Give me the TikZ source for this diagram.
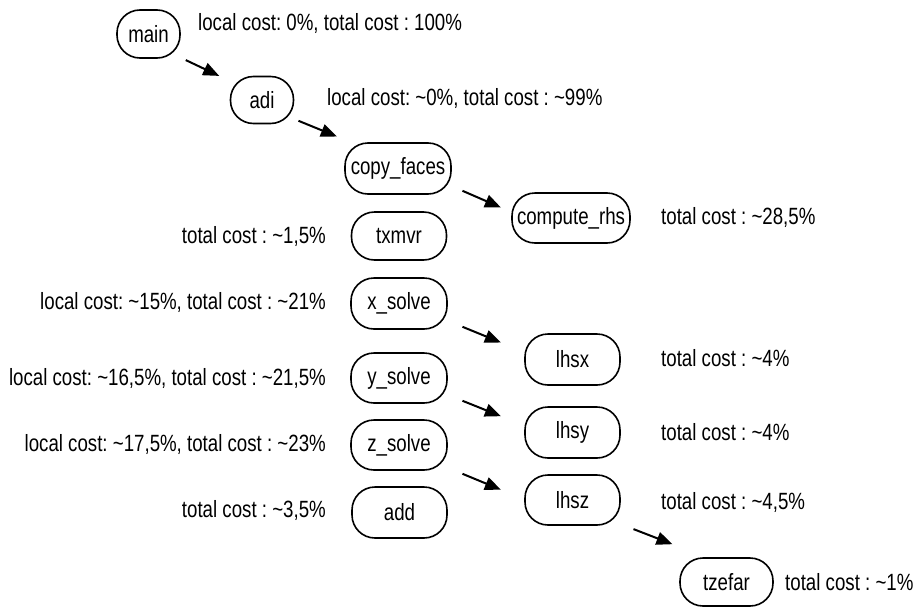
\documentclass[tikz,border=0pt]{standalone}
\usepackage{fontspec}
\setmainfont{Liberation Sans}[FakeStretch=0.795]
\usetikzlibrary{arrows.meta}
\newcommand{\tl}{\textasciitilde}
\frenchspacing
\begin{document}
\begin{tikzpicture}[x=1pt,y=-1pt,
  fn/.style={draw,line width=1.6pt,rounded corners=23pt,inner sep=0pt,
    font=\fontsize{23.5}{25}\selectfont},
  lbl/.style={inner sep=0pt,font=\fontsize{23.5}{25}\selectfont},
  arr/.style={line width=2pt,-{Triangle[length=16pt,width=13pt]}}]
\useasboundingbox (0,0) rectangle (915,608);
% nodes
\node[fn,minimum width=63pt,minimum height=48pt] (main) at (148.5,34) {main};
\node[fn,minimum width=63pt,minimum height=47pt] (adi) at (262,100) {adi};
\node[fn,minimum width=106pt,minimum height=51pt] (copy) at (398,168.5) {copy\_faces};
\node[fn,minimum width=95pt,minimum height=48pt] (txmvr) at (399,236) {txmvr};
\node[fn,minimum width=118pt,minimum height=50pt] (crhs) at (571,218) {compute\_rhs};
\node[fn,minimum width=96pt,minimum height=51pt] (xs) at (399,303.5) {x\_solve};
\node[fn,minimum width=95pt,minimum height=51pt] (lhsx) at (572.5,359.5) {lhsx};
\node[fn,minimum width=96pt,minimum height=50pt] (ys) at (399,378) {y\_solve};
\node[fn,minimum width=95pt,minimum height=51pt] (lhsy) at (572.5,432.5) {lhsy};
\node[fn,minimum width=96pt,minimum height=50pt] (zs) at (399,445) {z\_solve};
\node[fn,minimum width=95pt,minimum height=50pt] (lhsz) at (572.5,500) {lhsz};
\node[fn,minimum width=95pt,minimum height=51pt] (add) at (399.5,512.5) {add};
\node[fn,minimum width=93pt,minimum height=48pt] (tzefar) at (726.5,582) {tzefar};
% labels
\node[lbl,anchor=west] (lmain) at (198,23) {local cost: 0\%, total cost : 100\%};
\node[lbl,anchor=west] (ladi) at (327,98) {local cost: \tl0\%, total cost : \tl99\%};
\node[lbl,anchor=west] (lcrhs) at (661,217) {total cost : \tl28,5\%};
\node[lbl,anchor=east] (ltx) at (326,236) {total cost : \tl1,5\%};
\node[lbl,anchor=east] (lxs) at (326,302) {local cost: \tl15\%, total cost : \tl21\%};
\node[lbl,anchor=east] (lys) at (326,378) {local cost: \tl16,5\%, total cost : \tl21,5\%};
\node[lbl,anchor=east] (lzs) at (326,444) {local cost: \tl17,5\%, total cost : \tl23\%};
\node[lbl,anchor=east] (ladd) at (326,510) {total cost : \tl3,5\%};
\node[lbl,anchor=west] (llhsx) at (661,358) {total cost : \tl4\%};
\node[lbl,anchor=west] (llhsy) at (661,432) {total cost : \tl4\%};
\node[lbl,anchor=west] (llhsz) at (661,502) {total cost : \tl4,5\%};
\node[lbl,anchor=west] (ltz) at (785,582) {total cost : \tl1\%};
% arrows
\draw[arr] ([shift={(5,1.3)}]main.south east) -- ([shift={(-10.5,0.2)}]adi.north west);
\draw[arr] ([shift={(4.2,-3.5)}]adi.south east) -- ([shift={(-7.3,-5.7)}]copy.north west);
\draw[arr] ([shift={(10.7,-4)}]copy.south east) -- ([shift={(-10.3,15.3)}]crhs.north west);
\draw[arr] ([shift={(14.7,-3)}]xs.south east) -- ([shift={(-23.3,9.3)}]lhsx.north west);
\draw[arr] ([shift={(14.7,-3)}]ys.south east) -- ([shift={(-23.3,10)}]lhsy.north west);
\draw[arr] ([shift={(14.7,3)}]zs.south east) -- ([shift={(-23.3,15.5)}]lhsz.north west);
\draw[arr] ([shift={(12.7,3.3)}]lhsz.south east) -- ([shift={(-6.7,-13)}]tzefar.north west);
\end{tikzpicture}
\end{document}
